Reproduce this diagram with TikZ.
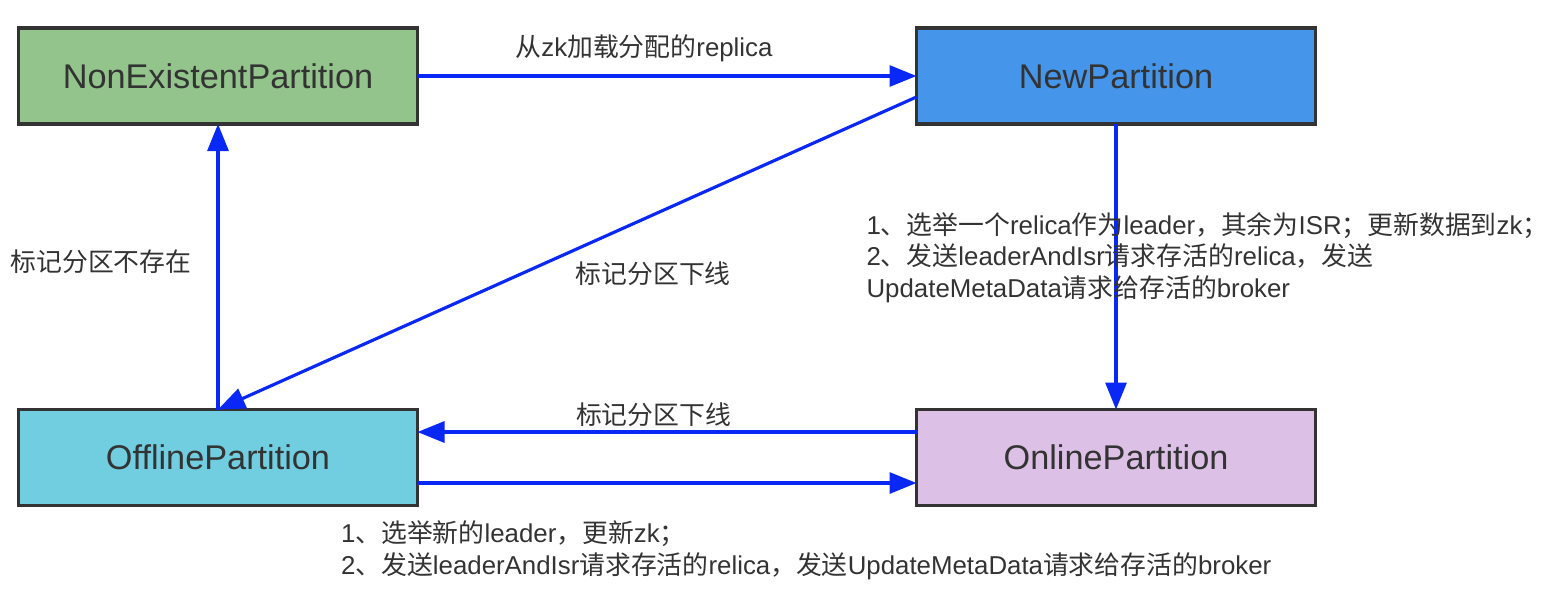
\documentclass[tikz,border=0pt]{standalone}
\usepackage{fontspec}
\setmainfont{Liberation Sans}
\newfontfamily\cjkfont{Noto Sans CJK SC}
% switch to the CJK font for Chinese characters
\XeTeXinterchartokenstate=1
\newXeTeXintercharclass\cjkclass
\newcount\cjkcode
\cjkcode="3000
\loop
  \XeTeXcharclass\cjkcode=\cjkclass
  \ifnum\cjkcode<"9FFF \advance\cjkcode by 1 \repeat
\cjkcode="FF00
\loop
  \XeTeXcharclass\cjkcode=\cjkclass
  \ifnum\cjkcode<"FFEF \advance\cjkcode by 1 \repeat
\XeTeXinterchartoks 0 \cjkclass = {\cjkfont}
\XeTeXinterchartoks 4095 \cjkclass = {\cjkfont}
\XeTeXinterchartoks \cjkclass 0 = {\rmfamily}
\XeTeXinterchartoks \cjkclass 4095 = {\rmfamily}
\usepackage{xcolor}
\usepackage{tikz}
\usetikzlibrary{arrows.meta, positioning, calc}
\definecolor{nonexistgreen}{HTML}{92C48B}
\definecolor{newblue}{HTML}{4596EA}
\definecolor{offlinecyan}{HTML}{70CEE0}
\definecolor{onlinepurple}{HTML}{DCC0E5}
\definecolor{arrowblue}{HTML}{0A28F5}
\definecolor{txtgray}{HTML}{333333}

\begin{document}
\begin{tikzpicture}[
    node distance=5.71cm and 9.98cm,
    partbox/.style={rectangle, draw=txtgray, line width=1.8pt, minimum width=7.98cm, minimum height=1.92cm, outer sep=0pt, text=txtgray, font=\fontsize{19.5}{23}\selectfont},
    lbl/.style={text=txtgray, inner sep=0pt, font=\fontsize{14.7}{18}\selectfont},
    arrow/.style={-{Triangle[length=0.54cm, width=0.42cm]}, line width=1.8pt, draw=arrowblue}
]
\useasboundingbox (0,0) rectangle (31.04,-12);

% States
\node [partbox, fill=nonexistgreen] (nonexist) at (4.36,-1.52) {NonExistentPartition};
\node [partbox, fill=newblue, right=of nonexist] (new) {NewPartition};
\node [partbox, fill=offlinecyan, below=of nonexist] (offline) {OfflinePartition};
\node [partbox, fill=onlinepurple, right=of offline] (online) {OnlinePartition};

% Transitions
\draw [arrow] (nonexist) -- node[lbl, pos=0.454, yshift=0.56cm] {从zk加载分配的replica} (new);
\draw [arrow] (new.186) -- node[lbl, pos=0.377, yshift=-1.17cm] {标记分区下线} (offline.north);
\draw [arrow] (offline) -- node[lbl, left=0.5cm, pos=0.518] {标记分区不存在} (nonexist);
\draw [arrow] (new) -- node[lbl, pos=0.468, anchor=west, xshift=-5.02cm, align=left] {1、选举一个relica作为leader，其余为ISR；更新数据到zk；\\2、发送leaderAndIsr请求存活的relica，发送\\UpdateMetaData请求给存活的broker} (online);
\draw [arrow] ([yshift=0.51cm]online.west) -- node[lbl, pos=0.527, yshift=0.34cm] {标记分区下线} ([yshift=0.51cm]offline.east);
\draw [arrow] ([yshift=-0.51cm]offline.east) -- node[lbl, pos=0, anchor=west, xshift=-1.56cm, yshift=-1.35cm, align=left] {1、选举新的leader，更新zk；\\2、发送leaderAndIsr请求存活的relica，发送UpdateMetaData请求给存活的broker} ([yshift=-0.51cm]online.west);

\end{tikzpicture}
\end{document}
